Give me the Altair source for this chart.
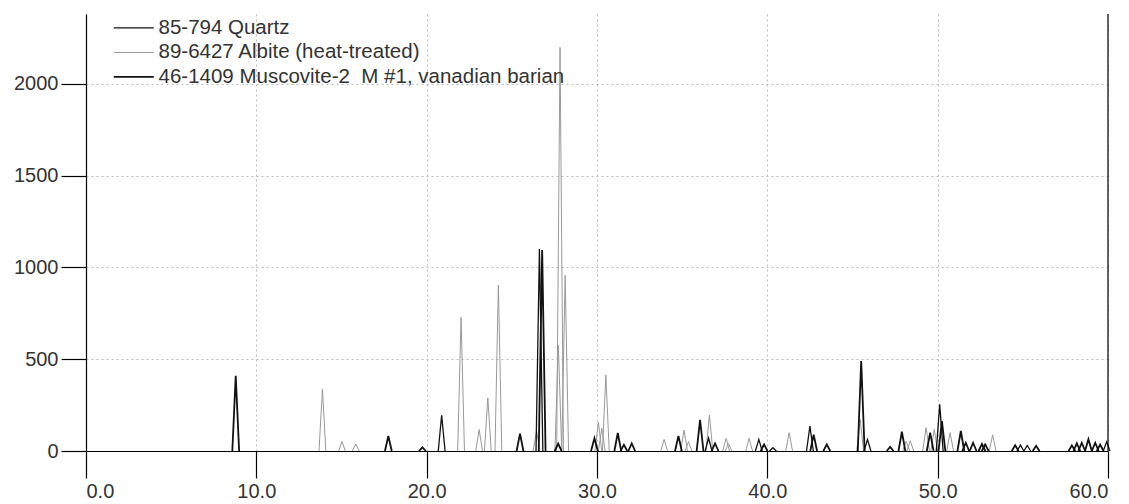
import altair as alt
import pandas as pd

# ---- data (peak position in 2-theta, intensity) ----
SERIES = [
    "85-794 Quartz",
    "89-6427 Albite (heat-treated)",
    "46-1409 Muscovite-2\u00a0 M #1, vanadian barian",
]

QUARTZ_POS = [20.88, 26.62, 36.55, 39.50, 40.33, 42.50, 45.88, 50.12, 54.86, 55.26, 59.92]
QUARTZ_INT = [195, 1100, 70, 63, 18, 136, 63, 254, 32, 30, 50]

ALBITE_POS = [13.88, 15.03, 15.84, 22.02, 23.08, 23.59, 24.21, 26.45, 27.73, 27.83, 28.13,
              30.08, 30.28, 30.52, 33.94, 35.11, 35.37, 36.60, 37.58, 37.72, 38.93, 41.28,
              45.45, 48.15, 48.39, 49.32, 49.80, 50.73, 53.23]
ALBITE_INT = [338, 51, 38, 727, 117, 289, 903, 110, 576, 2198, 957,
              158, 124, 413, 63, 114, 51, 196, 69, 40, 69, 100,
              172, 54, 56, 127, 118, 100, 88]

MUSC_POS = [8.79, 17.75, 19.75, 25.48, 26.78, 27.72, 29.85, 31.22, 31.58, 32.04, 34.78,
            36.05, 36.93, 39.81, 42.72, 43.49, 45.51, 47.21, 47.90, 49.56, 50.25, 51.36,
            51.65, 52.08, 52.60, 52.79, 54.55, 55.78, 57.88, 58.17, 58.46, 58.85, 59.25, 59.54]
MUSC_INT = [410, 82, 20, 95, 1095, 40, 69, 98, 34, 41, 82,
            169, 41, 36, 89, 36, 490, 22, 105, 100, 163, 109,
            45, 45, 38, 36, 31, 28, 30, 42, 45, 64, 45, 35]

X_TICKS = [0, 10, 20, 30, 40, 50, 60]
Y_TICKS = [0, 500, 1000, 1500, 2000]
Y_MAX = 2380

COLORS = ["#111111", "#999999", "#111111"]
WIDTHS = [1.3, 1.0, 1.8]
HW = 0.2  # drawn half width of a peak (style)

rows = []
# albite first so the black patterns are drawn over it
for name, pos, inten in [(SERIES[1], ALBITE_POS, ALBITE_INT),
                         (SERIES[0], QUARTZ_POS, QUARTZ_INT),
                         (SERIES[2], MUSC_POS, MUSC_INT)]:
    for i, (p, h) in enumerate(zip(pos, inten)):
        pid = f"{name}|{i}"
        rows.append(dict(series=name, peak=pid, x=p - HW, y=0, o=0))
        rows.append(dict(series=name, peak=pid, x=p, y=h, o=1))
        rows.append(dict(series=name, peak=pid, x=p + HW, y=0, o=2))
df = pd.DataFrame(rows)

W, H = 1022, 437
FONT = "Liberation Sans"

legend = alt.Legend(
    title=None, orient="none", legendX=37.5, legendY=3.7,
    symbolType="M-2.5,0H2.5", symbolSize=256, labelOffset=14.5,
    labelFontSize=20.5, labelFont=FONT, labelColor="#333333", labelLimit=0,
    rowPadding=3.5, padding=0,
)

lines = alt.Chart(df).mark_line().encode(
    x=alt.X("x:Q", scale=alt.Scale(domain=[X_TICKS[0], X_TICKS[-1]], nice=False, zero=False),
            axis=alt.Axis(values=X_TICKS, format=".1f", title=None, tickSize=27,
                          labelPadding=3, grid=True)),
    y=alt.Y("y:Q", scale=alt.Scale(domain=[0, Y_MAX], nice=False),
            axis=alt.Axis(values=Y_TICKS, format="d", title=None, tickSize=25,
                          labelPadding=3, grid=True)),
    color=alt.Color("series:N", scale=alt.Scale(domain=SERIES, range=COLORS), legend=legend),
    strokeWidth=alt.StrokeWidth("series:N",
                                scale=alt.Scale(type="ordinal", domain=SERIES, range=WIDTHS),
                                legend=legend),
    detail="peak:N",
    order="o:Q",
)

right_edge = alt.Chart(pd.DataFrame({"x": [X_TICKS[-1]]})).mark_rule(
    color="black", strokeWidth=1.2
).encode(x="x:Q", y=alt.value(0), y2=alt.value(H))

chart = alt.layer(lines, right_edge).properties(
    width=W, height=H,
    autosize=alt.AutoSizeParams(type="none"),
    padding={"left": 86, "top": 14, "right": 21, "bottom": 53},
).configure_view(stroke=None).configure_axis(
    domainColor="black", domainWidth=1.2,
    tickColor="black", tickWidth=1.2,
    labelFont=FONT, labelFontSize=20, labelColor="#333333",
    gridColor="#bdbdbd", gridDash=[2, 3], gridWidth=1,
)

chart.save("out.html", embed_options={"renderer": "svg", "actions": False})
